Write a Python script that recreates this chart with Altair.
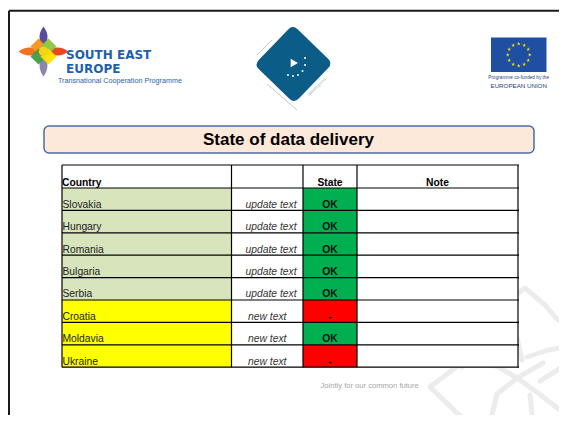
import altair as alt
import pandas as pd
import numpy as np

# ---------------- data ----------------
countries = ["Slovakia", "Hungary", "Romania", "Bulgaria", "Serbia", "Croatia", "Moldavia", "Ukraine"]
status_text = ["update text"] * 5 + ["new text"] * 3
states = ["OK", "OK", "OK", "OK", "OK", "-", "OK", "-"]
country_colors = ["#D8E4BC"] * 5 + ["#FFFF00"] * 3
state_colors = {"OK": "#00B050", "-": "#FF0000"}
headers = ["Country", "", "State", "Note"]
title_text = "State of data delivery"
footer_text = "Jointly for our common future"

# ---------------- layout ----------------
W, H = 551, 407
FONT = "Liberation Sans"
col_edges = [62, 231.5, 303, 357, 518]
header_top, header_bottom, row_h = 165, 188, 22.4

xs = alt.Scale(domain=[8, 8 + W], nice=False, zero=False)
ys = alt.Scale(domain=[8, 8 + H], nice=False, zero=False, reverse=True)


def X(f):
    return alt.X(f, type="quantitative", scale=xs, axis=None)


def Y(f):
    return alt.Y(f, type="quantitative", scale=ys, axis=None)


n = len(countries)
rows = pd.DataFrame({
    "country": countries,
    "status": status_text,
    "state": states,
    "cfill": country_colors,
    "sfill": [state_colors[s] for s in states],
})
rows["top"] = header_bottom + np.arange(n) * row_h
rows["bottom"] = rows["top"] + row_h
rows["base"] = rows["bottom"] - 2.6
rows["c0"], rows["c1"] = col_edges[0], col_edges[1]
rows["s0"], rows["s1"] = col_edges[2], col_edges[3]
rows["cx_left"] = col_edges[0] + 0.5
rows["status_right"] = col_edges[2] - 6.5
rows["status_mid"] = (col_edges[1] + col_edges[2]) / 2
rows["state_mid"] = (col_edges[2] + col_edges[3]) / 2

layers = []

# slide frame
frame = pd.DataFrame({"x0": [9, 9], "x1": [567, 9], "y0": [10.7, 10.7], "y1": [10.7, 423]})
layers.append(alt.Chart(frame).mark_rule(color="#1a1a1a", strokeWidth=2).encode(
    x=X("x0"), x2="x1", y=Y("y0"), y2="y1"))

# background decoration (bottom right: outline of the programme flower, light grey)
deco = pd.DataFrame([
    (0, 0, 512, 298), (0, 1, 525, 288), (0, 2, 545, 305), (0, 3, 556, 318), (0, 4, 567, 327),
    (1, 0, 462, 367), (1, 1, 462, 345), (1, 2, 467, 328), (1, 3, 508, 327), (1, 4, 517, 338), (1, 5, 522, 360),
    (2, 0, 484, 322), (2, 1, 472, 334), (2, 2, 466, 348),
    (3, 0, 463, 362), (3, 1, 430, 387), (3, 2, 457, 413), (3, 3, 468, 423),
    (4, 0, 463, 364), (4, 1, 497, 366), (4, 2, 517, 378), (4, 3, 538, 393), (4, 4, 560, 410),
    (5, 0, 543, 363), (5, 1, 517, 378), (5, 2, 497, 394), (5, 3, 490, 423),
    (6, 0, 527, 357), (6, 1, 548, 350), (6, 2, 567, 347),
    (7, 0, 530, 395), (7, 1, 533, 423),
    (8, 0, 540, 381), (8, 1, 567, 364),
], columns=["g", "o", "x", "y"])
layers.append(alt.Chart(deco).mark_line(color="#ECECEC", strokeWidth=5, strokeCap="round",
                                        strokeJoin="round").encode(
    x=X("x"), y=Y("y"), detail="g:N", order="o:Q"))

# table background + fills
tbg = pd.DataFrame({"x0": [col_edges[0]], "x1": [col_edges[-1]], "y0": [header_top],
                    "y1": [rows["bottom"].iloc[-1]]})
layers.append(alt.Chart(tbg).mark_rect(fill="#FFFFFF").encode(x=X("x0"), x2="x1", y=Y("y0"), y2="y1"))
layers.append(alt.Chart(rows).mark_rect().encode(
    x=X("c0"), x2="c1", y=Y("top"), y2="bottom", color=alt.Color("cfill:N", scale=None)))
layers.append(alt.Chart(rows).mark_rect().encode(
    x=X("s0"), x2="s1", y=Y("top"), y2="bottom", color=alt.Color("sfill:N", scale=None)))

# table grid
hlines = pd.DataFrame({"y": [header_top, header_bottom] + list(rows["bottom"])})
hlines["x0"], hlines["x1"] = col_edges[0], col_edges[-1] + 1
layers.append(alt.Chart(hlines).mark_rule(color="#000", strokeWidth=1.2).encode(
    x=X("x0"), x2="x1", y=Y("y")))
vlines = pd.DataFrame({"x": col_edges})
vlines["y0"], vlines["y1"] = header_top, rows["bottom"].iloc[-1]
layers.append(alt.Chart(vlines).mark_rule(color="#000", strokeWidth=1.2).encode(
    x=X("x"), y=Y("y0"), y2="y1"))

# header texts
hdr = pd.DataFrame({"label": headers,
                    "x": [col_edges[0], (col_edges[1] + col_edges[2]) / 2,
                          (col_edges[2] + col_edges[3]) / 2, (col_edges[3] + col_edges[4]) / 2],
                    "al": ["left", "center", "center", "center"]})
hdr["y"] = header_bottom - 2.2
layers.append(alt.Chart(hdr[hdr["al"] == "left"]).mark_text(
    align="left", baseline="alphabetic", font=FONT, fontSize=10.3, fontWeight="bold", color="#000").encode(
    x=X("x"), y=Y("y"), text="label:N"))
layers.append(alt.Chart(hdr[hdr["al"] == "center"]).mark_text(
    align="center", baseline="alphabetic", font=FONT, fontSize=10.3, fontWeight="bold", color="#000").encode(
    x=X("x"), y=Y("y"), text="label:N"))

# row texts
layers.append(alt.Chart(rows).mark_text(
    align="left", baseline="alphabetic", font=FONT, fontSize=10.3, color="#222").encode(
    x=X("cx_left"), y=Y("base"), text="country:N"))
layers.append(alt.Chart(rows[rows["status"] == "update text"]).mark_text(
    align="right", baseline="alphabetic", font=FONT, fontSize=10.3, fontStyle="italic", color="#333").encode(
    x=X("status_right"), y=Y("base"), text="status:N"))
layers.append(alt.Chart(rows[rows["status"] == "new text"]).mark_text(
    align="center", baseline="alphabetic", font=FONT, fontSize=10.3, fontStyle="italic", color="#333").encode(
    x=X("status_mid"), y=Y("base"), text="status:N"))
layers.append(alt.Chart(rows).mark_text(
    align="center", baseline="alphabetic", font=FONT, fontSize=10.4, fontWeight="bold", color="#111").encode(
    x=X("state_mid"), y=Y("base"), text="state:N"))

# title box
tbox = pd.DataFrame({"x0": [44], "x1": [534], "y0": [126], "y1": [153], "xm": [288.5], "ym": [139.5],
                     "tt": [title_text]})
layers.append(alt.Chart(tbox).mark_rect(fill="#FDE9D9", stroke="#4A6DA7", strokeWidth=1.5, cornerRadius=5).encode(
    x=X("x0"), x2="x1", y=Y("y0"), y2="y1"))
layers.append(alt.Chart(tbox).mark_text(
    align="center", baseline="middle", font=FONT, fontSize=17, fontWeight="bold", color="#000").encode(
    x=X("xm"), y=Y("ym"), text="tt:N"))

# ---------- SEE logo ----------
petal = "M0,-1 Q0.7,-0.1 0,1 Q-0.7,-0.1 0,-1 Z"
petals = pd.DataFrame({
    "x": [43.5, 43.5, 30, 57],
    "y": [38, 65, 51.5, 51.5],
    "ang": [0, 180, 270, 90],
    "col": ["#5B4C9A", "#8C86AE", "#F36F21", "#E8481E"],
})
for i in range(len(petals)):
    r = petals.iloc[[i]]
    layers.append(alt.Chart(r).mark_point(
        shape=petal, filled=True, opacity=1, size=520, angle=float(r["ang"].iloc[0]),
        color=r["col"].iloc[0]).encode(x=X("x"), y=Y("y")))
center = pd.DataFrame({"x": [38.5, 48.5, 38.5, 48.5], "y": [46.5, 46.5, 56.5, 56.5],
                       "col": ["#F7941D", "#8DC63F", "#3F9B46", "#FFE100"]})
layers.append(alt.Chart(center).mark_point(shape="diamond", filled=True, size=260, opacity=0.95).encode(
    x=X("x"), y=Y("y"), color=alt.Color("col:N", scale=None)))
core = pd.DataFrame({"x": [43.5], "y": [51.5]})
layers.append(alt.Chart(core).mark_circle(size=90, opacity=1, color="#F5D312").encode(x=X("x"), y=Y("y")))

see_name = pd.DataFrame({"tt": ["SOUTH EAST", "EUROPE"], "x": [66, 66], "y": [59, 73]})
layers.append(alt.Chart(see_name).mark_text(
    align="left", baseline="alphabetic", font="DejaVu Sans", fontSize=12, fontWeight="bold",
    color="#1F5FAE").encode(x=X("x"), y=Y("y"), text="tt:N"))
see_sub = pd.DataFrame({"tt": ["Transnational Cooperation Programme"], "x": [58], "y": [82.5]})
layers.append(alt.Chart(see_sub).mark_text(
    align="left", baseline="alphabetic", font=FONT, fontSize=7.2, color="#1F5FAE").encode(
    x=X("x"), y=Y("y"), text="tt:N"))

# ---------- middle logo ----------
rsq = "M-0.76,-1 L0.76,-1 Q1,-1 1,-0.76 L1,0.76 Q1,1 0.76,1 L-0.76,1 Q-1,1 -1,0.76 L-1,-0.76 Q-1,-1 -0.76,-1 Z"
shadow = pd.DataFrame({"x0": [257, 267], "y0": [55, 84], "x1": [272, 297], "y1": [40, 110]})
layers.append(alt.Chart(shadow).mark_rule(color="#B8B8B8", strokeWidth=0.8).encode(
    x=X("x0"), x2="x1", y=Y("y0"), y2="y1"))
mid = pd.DataFrame({"x": [293.5], "y": [64]})
layers.append(alt.Chart(mid).mark_point(shape=rsq, filled=True, opacity=1, size=3100, angle=44,
                                         color="#0B5C87").encode(x=X("x"), y=Y("y")))
glyph = pd.DataFrame({"x": [292.5], "y": [62]})
layers.append(alt.Chart(glyph).mark_point(shape="triangle-up", filled=True, opacity=1, size=70, angle=330,
                                           color="#FFFFFF").encode(x=X("x"), y=Y("y")))
dots = pd.DataFrame({"x": [305, 305, 302.5, 298, 293, 288], "y": [58, 65, 71, 75, 76, 75]})
layers.append(alt.Chart(dots).mark_circle(size=4, opacity=1, color="#FFFFFF").encode(x=X("x"), y=Y("y")))
dtxt = pd.DataFrame({"x": [317], "y": [87], "tt": ["dataregions"]})
layers.append(alt.Chart(dtxt).mark_text(angle=316, font=FONT, fontSize=4.5, color="#A9C2D6").encode(
    x=X("x"), y=Y("y"), text="tt:N"))

# ---------- EU flag ----------
flag = pd.DataFrame({"x0": [491], "x1": [546.5], "y0": [37.5], "y1": [72]})
layers.append(alt.Chart(flag).mark_rect(fill="#1E4FA2").encode(x=X("x0"), x2="x1", y=Y("y0"), y2="y1"))
ang = np.deg2rad(np.arange(12) * 30)
stars = pd.DataFrame({"x": 518.7 + 11 * np.sin(ang), "y": 54.8 - 11 * np.cos(ang)})
star = "M0,-1L0.2245,-0.309L0.951,-0.309L0.363,0.118L0.588,0.809L0,0.382L-0.588,0.809L-0.363,0.118L-0.951,-0.309L-0.2245,-0.309Z"
layers.append(alt.Chart(stars).mark_point(shape=star, filled=True, opacity=1, size=16, color="#FFE600").encode(
    x=X("x"), y=Y("y")))
eu_txt = pd.DataFrame({"tt": ["Programme co-funded by the", "EUROPEAN UNION"], "x": [518.7, 518.7],
                       "y": [79, 87.5], "fs": [4.7, 6.2]})
for i in range(len(eu_txt)):
    r = eu_txt.iloc[[i]]
    layers.append(alt.Chart(r).mark_text(
        align="center", baseline="alphabetic", font=FONT, fontSize=float(r["fs"].iloc[0]), color="#24407F").encode(
        x=X("x"), y=Y("y"), text="tt:N"))

# footer
foot = pd.DataFrame({"x": [320.5], "y": [386], "tt": [footer_text]})
layers.append(alt.Chart(foot).mark_text(align="left", baseline="middle", font=FONT, fontSize=7.6,
                                        color="#A6A6A6").encode(x=X("x"), y=Y("y"), text="tt:N"))

chart = alt.layer(*layers).properties(
    width=W, height=H, autosize=alt.AutoSizeParams(type="none"), padding=0, background="#FFFFFF"
).configure_view(stroke=None)

chart.save("out.html", embed_options={"renderer": "svg", "actions": False})
